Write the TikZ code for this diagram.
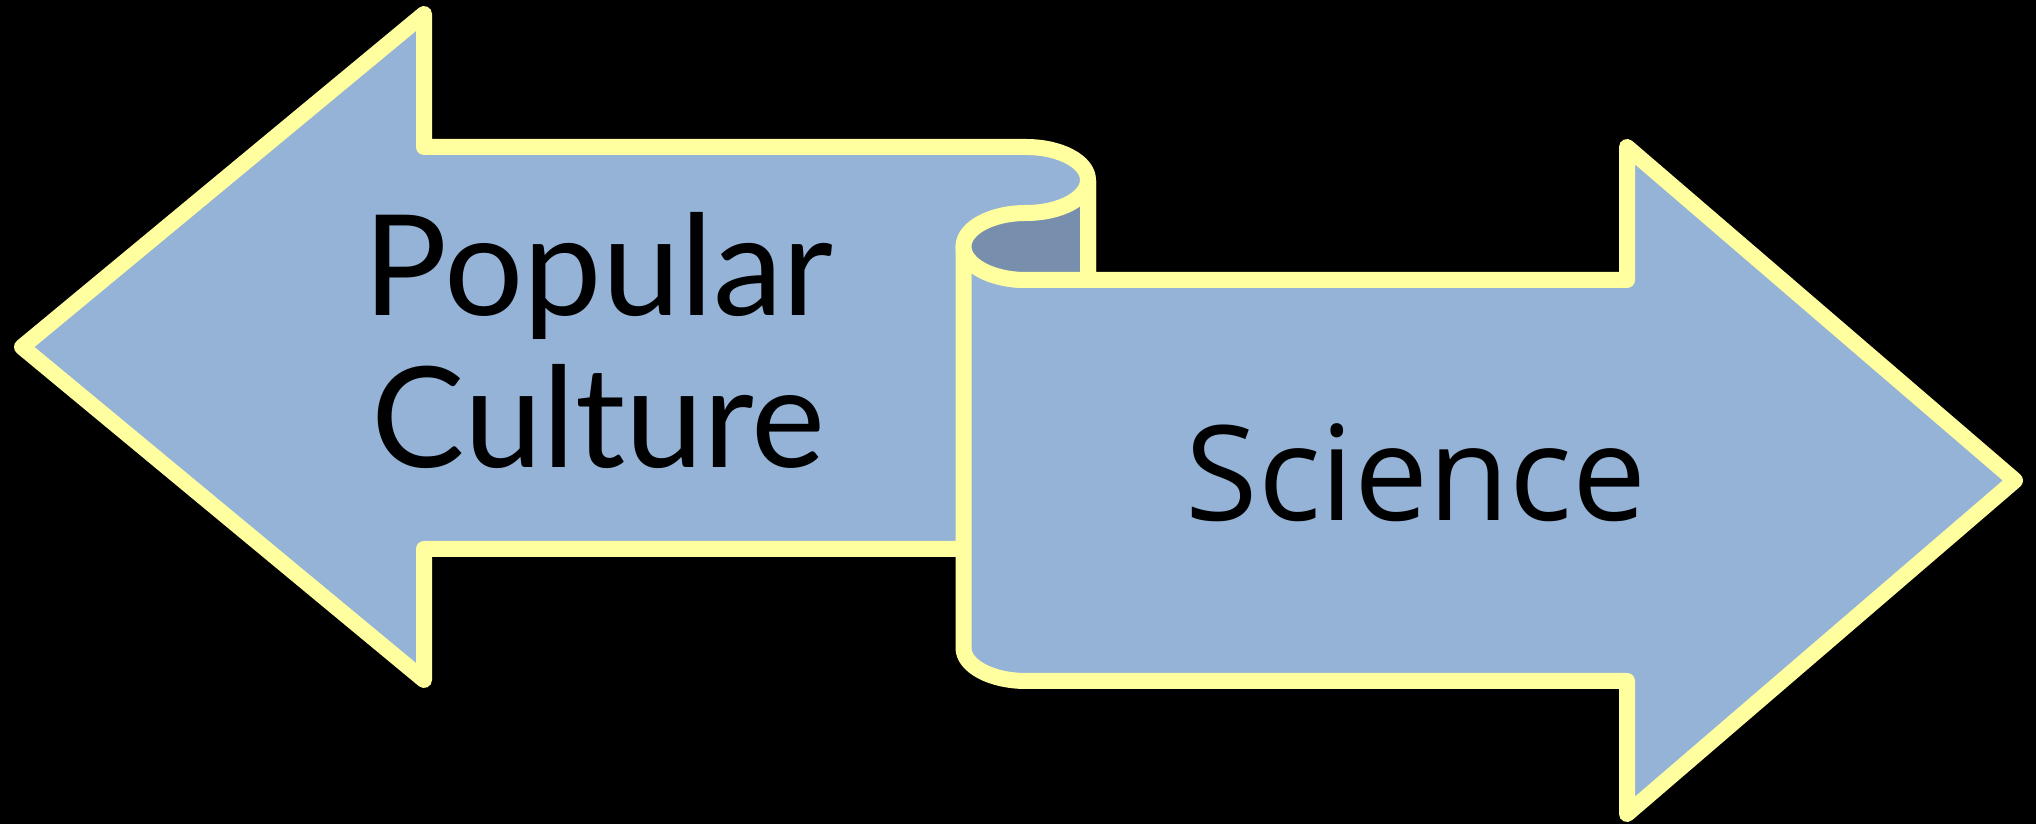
\documentclass[tikz,border=0pt]{standalone}
\usepackage{fontspec}
\setmainfont{Lato}
\newfontfamily\scifont{Open Sans}
\definecolor{arrowblue}{HTML}{95B3D7}
\definecolor{darkblue}{HTML}{778FAC}
\definecolor{rimyellow}{HTML}{FFFF9F}
\tikzset{
  arrowshape/.style={fill=arrowblue, draw=rimyellow, line width=8pt, line join=round},
  innershape/.style={fill=darkblue, draw=rimyellow, line width=8pt, line join=round},
  lbl/.style={anchor=base, inner sep=0pt, text=black}
}
\begin{document}
\begin{tikzpicture}[x=0.5pt,y=0.5pt]
  \fill[black] (0,0) rectangle (2036,824);
  \useasboundingbox (0,0) rectangle (2036,824);
  % left arrow (behind)
  \draw[arrowshape] (22,477) -- (424,810) -- (424,677) -- (1026,677)
     arc[start angle=90, end angle=0, x radius=31pt, y radius=16.5pt]
     -- (1088,275) -- (424,275) -- (424,144) -- cycle;
  % right arrow (front)
  \draw[arrowshape] (963.5,577.5) -- (963.5,176)
     arc[start angle=180, end angle=270, x radius=31.25pt, y radius=16.5pt]
     -- (1627,143) -- (1627,10) -- (2015,343.5) -- (1627,677) -- (1627,544) -- (1026,544)
     arc[start angle=270, end angle=180, x radius=31.25pt, y radius=16.75pt]
     -- cycle;
  % rolled edge of the scroll
  \draw[innershape] (963.5,577.5)
     arc[start angle=180, end angle=90, x radius=31.25pt, y radius=16.75pt]
     arc[start angle=270, end angle=360, x radius=31pt, y radius=16.5pt]
     -- (1088,544) -- (1026,544)
     arc[start angle=270, end angle=180, x radius=31.25pt, y radius=16.75pt]
     -- cycle;
  % labels
  \node[lbl, font=\fontsize{70}{84}\selectfont] (pop) at (598.5,508) {Popular};
  \node[lbl, font=\fontsize{70}{84}\selectfont] (cul) at (598.5,356) {Culture};
  \node[lbl, font=\scifont\fontsize{66}{80}\selectfont] (sci) at (1416,303) {Science};
\end{tikzpicture}
\end{document}
